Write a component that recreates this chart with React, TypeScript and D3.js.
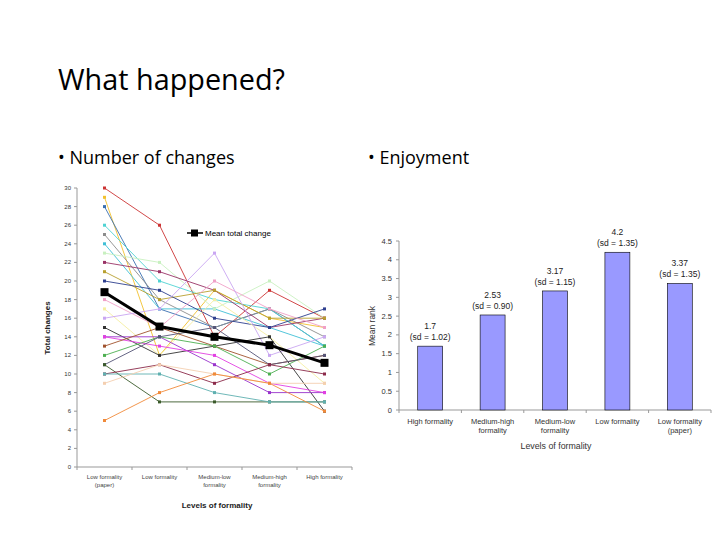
import React from 'react';
import * as d3 from 'd3';

// ---- left chart: number of changes per participant ----
const lineCats = ['Low formality (paper)', 'Low formality', 'Medium-low formality', 'Medium-high formality', 'High formality'];
const lineCatLines = [['Low formality', '(paper)'], ['Low formality'], ['Medium-low', 'formality'], ['Medium-high', 'formality'], ['High formality']];
const participants: number[][] = [
  [30, 26, 14, 19, 16],
  [29, 12, 19, 16, 15],
  [28, 17, 15, 17, 13],
  [26, 20, 18, 17, 13],
  [25, 18, 15, 17, 14],
  [24, 17, 17, 15, 13],
  [23, 22, 17, 20, 16],
  [22, 21, 19, 15, 16],
  [21, 18, 19, 16, 16],
  [20, 19, 16, 15, 17],
  [18, 15, 20, 17, 15],
  [17, 12, 18, 14, 9],
  [16, 17, 23, 12, 14],
  [15, 12, 13, 14, 6],
  [14, 14, 11, 8, 8],
  [14, 13, 12, 9, 8],
  [13, 15, 13, 11, 12],
  [12, 14, 13, 10, 13],
  [11, 14, 15, 11, 12],
  [11, 7, 7, 7, 7],
  [10, 11, 9, 11, 10],
  [10, 10, 8, 7, 7],
  [9, 11, 10, 9, 9],
  [5, 8, 10, 9, 6],
];
const participantColors = [
  '#cc3333', '#f2c12e', '#3a6fb0', '#4fd3d3', '#8c8c8c', '#3fbfd6', '#c8f0c0', '#993366',
  '#b8a030', '#2e3f8f', '#f0a0c8', '#f5eea0', '#c9a6f2', '#333333', '#9933cc', '#e23fe2',
  '#a0522d', '#4caf50', '#555577', '#3a5a2a', '#8b2a4a', '#5fb0b0', '#f4cfb0', '#f08a3a',
];
const meanChange = [18.8, 15.1, 14.0, 13.1, 11.2];
const changeTicks = d3.range(0, 31, 2);

// ---- right chart: enjoyment ----
const barCats = [['High formality'], ['Medium-high', 'formality'], ['Medium-low', 'formality'], ['Low formality'], ['Low formality', '(paper)']];
const meanRank = [1.7, 2.53, 3.17, 4.2, 3.37];
const rankLabels = ['1.7', '2.53', '3.17', '4.2', '3.37'];
const rankSd = ['1.02', '0.90', '1.15', '1.35', '1.35'];
const rankTicks = [0, 0.5, 1, 1.5, 2, 2.5, 3, 3.5, 4, 4.5];

const chartFont = 'Liberation Sans, Arial, sans-serif';
const slideFont = 'Open Sans, sans-serif';

const App: React.FC = () => {
  // left scales
  const lx = d3.scaleBand<number>().domain(d3.range(lineCats.length)).range([77, 352]);
  const ly = d3.scaleLinear().domain([0, 30]).range([467, 188]);
  const lcx = (i: number) => (lx(i) ?? 0) + lx.bandwidth() / 2;
  const line = d3.line<number>().x((_, i) => lcx(i)).y(d => ly(d));

  // right scales
  const bx = d3.scaleBand<number>().domain(d3.range(barCats.length)).range([399, 711]).paddingInner(0.6).paddingOuter(0.3);
  const by = d3.scaleLinear().domain([0, 4.5]).range([410, 241]);
  const bandStep = bx.step();

  return (
    <svg width={720} height={540} style={{ position: 'absolute', left: 0, top: 0, background: '#fff' }}>
      <text x={58} y={90} fontFamily={slideFont} fontSize={28.8} fill="#000">What happened?</text>
      <text x={58} y={164} fontFamily={slideFont} fontSize={18} fill="#000">• Number of changes</text>
      <text x={368} y={164} fontFamily={slideFont} fontSize={18} fill="#000">• Enjoyment</text>

      {/* left chart */}
      <g fontFamily={chartFont}>
        {changeTicks.map(t => (
          <g key={t}>
            <line x1={74} x2={77} y1={ly(t)} y2={ly(t)} stroke="#999" />
            <text x={71} y={ly(t) + 2} fontSize={6} textAnchor="end" fill="#333">{t}</text>
          </g>
        ))}
        <line x1={77} x2={77} y1={188} y2={467} stroke="#999" />
        <line x1={77} x2={352} y1={467} y2={467} stroke="#999" />
        {d3.range(lineCats.length + 1).map(i => (
          <line key={i} x1={77 + i * lx.step()} x2={77 + i * lx.step()} y1={467} y2={470} stroke="#999" />
        ))}
        {participants.map((p, k) => (
          <g key={k}>
            <path d={line(p) ?? ''} fill="none" stroke={participantColors[k]} strokeWidth={0.9} />
            {p.map((v, i) => (
              <rect key={i} x={lcx(i) - 1.5} y={ly(v) - 1.5} width={3} height={3} fill={participantColors[k]} />
            ))}
          </g>
        ))}
        <path d={line(meanChange) ?? ''} fill="none" stroke="#000" strokeWidth={3} />
        {meanChange.map((v, i) => (
          <rect key={i} x={lcx(i) - 4} y={ly(v) - 4} width={8} height={8} fill="#000" />
        ))}
        {/* legend */}
        <line x1={187} x2={203} y1={233} y2={233} stroke="#000" strokeWidth={1.5} />
        <rect x={191} y={229.5} width={7} height={7} fill="#000" />
        <text x={205} y={236} fontSize={8} fill="#000">Mean total change</text>
        {lineCatLines.map((ls, i) => (
          <text key={i} x={lcx(i)} y={479} fontSize={6} textAnchor="middle" fill="#444">
            {ls.map((s, j) => <tspan key={j} x={lcx(i)} dy={j === 0 ? 0 : 8}>{s}</tspan>)}
          </text>
        ))}
        <text x={217} y={508} fontSize={8} fontWeight="bold" textAnchor="middle" fill="#222">Levels of formality</text>
        <text transform="translate(50,328) rotate(-90)" fontSize={8} fontWeight="bold" textAnchor="middle" fill="#222">Total changes</text>
      </g>

      {/* right chart */}
      <g fontFamily={chartFont}>
        {rankTicks.map(t => (
          <g key={t}>
            <line x1={396} x2={399} y1={by(t)} y2={by(t)} stroke="#999" />
            <text x={392} y={by(t) + 2.5} fontSize={7.5} textAnchor="end" fill="#333">{t}</text>
          </g>
        ))}
        <line x1={399} x2={399} y1={241} y2={410} stroke="#999" />
        <line x1={399} x2={711} y1={410} y2={410} stroke="#999" />
        {d3.range(barCats.length + 1).map(i => (
          <line key={i} x1={399 + i * bandStep} x2={399 + i * bandStep} y1={410} y2={413} stroke="#999" />
        ))}
        {meanRank.map((v, i) => {
          const x = bx(i) ?? 0;
          const cx = x + bx.bandwidth() / 2;
          return (
            <g key={i}>
              <rect x={x} y={by(v)} width={bx.bandwidth()} height={by(0) - by(v)} fill="#9999ff" stroke="#000" strokeWidth={0.6} />
              <text x={cx} y={by(v) - 17} fontSize={8.5} textAnchor="middle" fill="#222">{rankLabels[i]}</text>
              <text x={cx} y={by(v) - 6} fontSize={8.5} textAnchor="middle" fill="#222">(sd = {rankSd[i]})</text>
            </g>
          );
        })}
        {barCats.map((ls, i) => {
          const cx = (bx(i) ?? 0) + bx.bandwidth() / 2;
          return (
            <text key={i} x={cx} y={424} fontSize={7.5} textAnchor="middle" fill="#333">
              {ls.map((s, j) => <tspan key={j} x={cx} dy={j === 0 ? 0 : 9}>{s}</tspan>)}
            </text>
          );
        })}
        <text x={556} y={449} fontSize={8.8} textAnchor="middle" fill="#333">Levels of formality</text>
        <text transform="translate(375,326) rotate(-90)" fontSize={8.5} textAnchor="middle" fill="#333">Mean rank</text>
      </g>
    </svg>
  );
};

export default App;
